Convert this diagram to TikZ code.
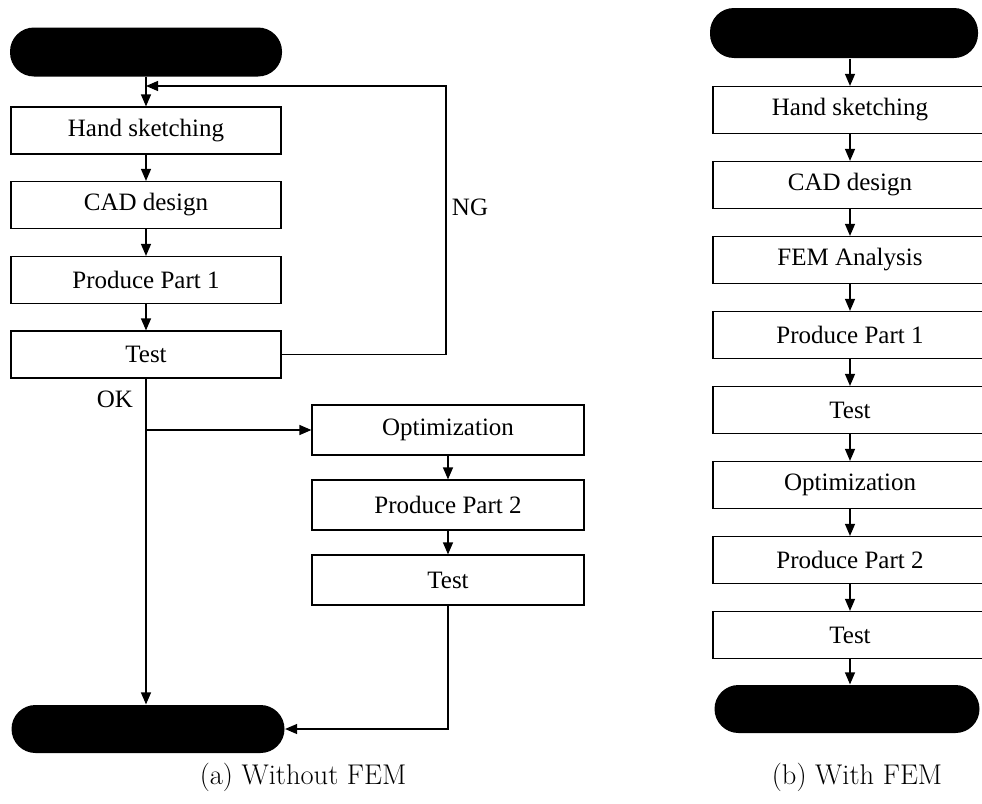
\documentclass[tikz,border=0pt]{standalone}
\usepackage{fontspec}
\newfontfamily\boxfont{Liberation Serif}
\usepackage{tikz}
\usetikzlibrary{positioning,shapes,fit}
\usetikzlibrary{calc}
\usetikzlibrary{arrows.meta}

\begin{document}
\begin{tikzpicture}[x=1pt,y=-1pt,line width=1.2pt,
		stepbox/.style={draw,rectangle,minimum width=270pt,minimum height=47pt,inner sep=0pt,font=\boxfont\fontsize{25}{29}\selectfont},
		terminal/.style={fill=black,rectangle,rounded corners=24pt,minimum width=272pt,minimum height=49pt},
		flow/.style={-{Triangle[length=12pt,width=10pt]}},
		lbl/.style={font=\boxfont\fontsize{25}{29}\selectfont},
		caption/.style={font=\fontsize{28.5}{32}\selectfont}]
			\useasboundingbox (0,0) rectangle (982,803);
			% (a) without FEM
			\node[terminal] (a0) at (146,52) {};
			\node[stepbox] (a1) at (146,130.5) {Hand sketching};
			\node[stepbox] (a2) at (146,205) {CAD design};
			\node[stepbox] (a3) at (146,280) {Produce Part 1};
			\node[stepbox] (a4) at (146,354.5) {Test};
			\node[stepbox,minimum width=272pt,minimum height=50pt] (a5) at (448,430) {Optimization};
			\node[stepbox,minimum width=272pt,minimum height=50pt] (a6) at (448,505) {Produce Part 2};
			\node[stepbox,minimum width=272pt,minimum height=50pt] (a7) at (448,580) {Test};
			\node[terminal,minimum width=273pt,minimum height=48pt] (a8) at (148,729) {};
			\foreach \i/\j in {0/1,1/2,2/3,3/4,5/6,6/7}{
					\draw[flow] (a\i.south) -- (a\i.south |- a\j.north);
				}
			\coordinate (ngcorner) at (446,86);
			\draw[flow] (a4.east) -| (ngcorner) -- (a0.south |- ngcorner);
			\node[lbl] (ng) at (470,207) {NG};
			\draw[flow] (a4.south) -- (a4.south |- a8.north);
			\node[lbl] (ok) at (115,399) {OK};
			\coordinate (okfork) at (a4.south |- a5.west);
			\draw[flow] (okfork) -- (a5.west);
			\draw[flow] (a7.south) |- (a8.east);
			\node[caption] (capa) at (303,777) {(a) Without FEM};
			% (b) with FEM
			\node[terminal,minimum width=268pt,minimum height=50pt] (b0) at (844,33) {};
			\foreach \txt [count=\k] in {Hand sketching,CAD design,FEM Analysis,Produce Part 1,Test,Optimization,Produce Part 2,Test}{
					\node[stepbox,minimum width=274pt] (b\k) at (850,{35+75*\k}) {\txt};
				}
			\node[terminal,minimum width=265pt,minimum height=48pt] (b9) at (847,709) {};
			\foreach \i [evaluate=\i as \j using int(\i+1)] in {0,...,8}{
					\draw[flow] (b\i.south -| b1) -- (b\j.north -| b1);
				}
			\node[caption] (capb) at (857,777) {(b) With FEM};
		\end{tikzpicture}
\end{document}
